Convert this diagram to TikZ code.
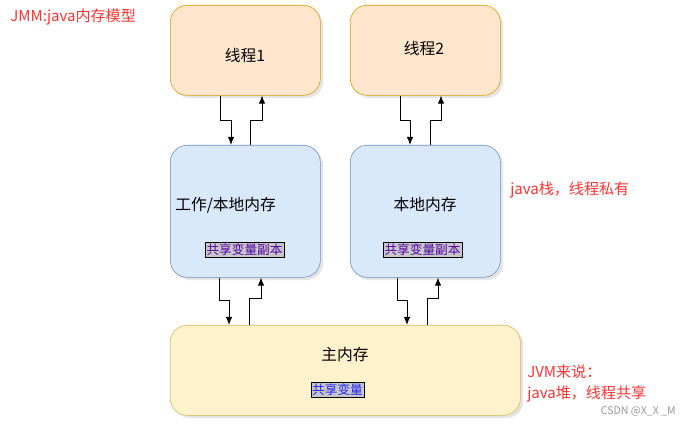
\documentclass[tikz,border=0pt]{standalone}
\usepackage{fontspec}
\setmainfont{Noto Sans CJK SC}
\usetikzlibrary{calc,shadows,arrows.meta}
\definecolor{thfill}{HTML}{FFE6CC}
\definecolor{thline}{HTML}{D79B00}
\definecolor{lmfill}{HTML}{DAE8FC}
\definecolor{lmline}{HTML}{6C8EBF}
\definecolor{mmfill}{HTML}{FFF2CC}
\definecolor{mmline}{HTML}{D6B656}
\definecolor{notered}{HTML}{FF3333}
\definecolor{tagpurple}{HTML}{5500AA}
\definecolor{tagblue}{HTML}{2222FF}
\tikzset{
  membox/.style={rectangle,rounded corners=12pt,thin,anchor=north west,
    drop shadow={shadow xshift=2pt,shadow yshift=-2pt,fill=black!20}},
  tag/.style={draw=black,fill=black!22,inner sep=1pt,font=\fontsize{9}{10}\selectfont},
  note/.style={text=notered,anchor=west,inner sep=0pt,font=\fontsize{10.7}{12}\selectfont},
  lbl/.style={font=\fontsize{11.2}{13}\selectfont},
  link/.style={-{Latex[length=2mm,width=1.6mm]},semithick}
}
\begin{document}
\begin{tikzpicture}[x=0.025cm,y=-0.025cm]
\useasboundingbox (0,0) rectangle (690,425);
% threads
\node[membox,fill=thfill,draw=thline,minimum width=3.75cm,minimum height=2.25cm] (t1) at (170,5) {};
\node[membox,fill=thfill,draw=thline,minimum width=3.75cm,minimum height=2.25cm] (t2) at (350,5) {};
% local memory
\node[membox,fill=lmfill,draw=lmline,minimum width=3.75cm,minimum height=3.3cm] (w1) at (170,145) {};
\node[membox,fill=lmfill,draw=lmline,minimum width=3.75cm,minimum height=3.3cm] (w2) at (350,145) {};
% main memory
\node[membox,fill=mmfill,draw=mmline,minimum width=8.75cm,minimum height=2.25cm] (mm) at (170,325) {};
\node[lbl] (t1l) at (245,55) {线程1};
\node[lbl] (t2l) at (424,48) {线程2};
\node[lbl,anchor=west,inner sep=0pt] (w1l) at (175,205) {工作/本地内存};
\node[lbl] (w2l) at (425,205) {本地内存};
\node[tag,text=tagpurple] (w1t) at (244.5,250) {共享变量副本};
\node[tag,text=tagpurple] (w2t) at (422.5,250) {共享变量副本};
\node[lbl] (mml) at (345,355) {主内存};
\node[tag,text=tagblue] (mmt) at (337.5,390) {共享变量};
% notes
\node[note] (n0) at (10,17) {JMM:java内存模型};
\node[note] (n1) at (510,190) {java栈，线程私有};
\node[note] (n2) at (527,372) {JVM来说：};
\node[note] (n3) at (527,394) {java堆，线程共享};
\node[anchor=east,inner sep=0pt,text=black!40,font=\fontsize{7.5}{9}\selectfont] (wm) at (676,411) {CSDN @X\_X \_M};
% arrows thread <-> local
\draw[link] ($(t1.south west)+(50,0)$) -- ++(0,25) -| ($(w1.north west)+(61,0)$);
\draw[link] ($(w1.north west)+(80,0)$) -- ++(0,-25) -| ($(t1.south west)+(92,0)$);
\draw[link] ($(t2.south west)+(50,0)$) -- ++(0,25) -| ($(w2.north west)+(60,0)$);
\draw[link] ($(w2.north west)+(80,0)$) -- ++(0,-25) -| ($(t2.south west)+(91,0)$);
% arrows local <-> main
\draw[link] ($(w1.south west)+(49,0)$) -- ++(0,23) -| ($(mm.north west)+(59,0)$);
\draw[link] ($(mm.north west)+(79,0)$) -- ++(0,-27) -| ($(w1.south west)+(91,0)$);
\draw[link] ($(w2.south west)+(47,0)$) -- ++(0,23) -| ($(mm.north west)+(237,0)$);
\draw[link] ($(mm.north west)+(257,0)$) -- ++(0,-27) -| ($(w2.south west)+(88,0)$);
\end{tikzpicture}
\end{document}
